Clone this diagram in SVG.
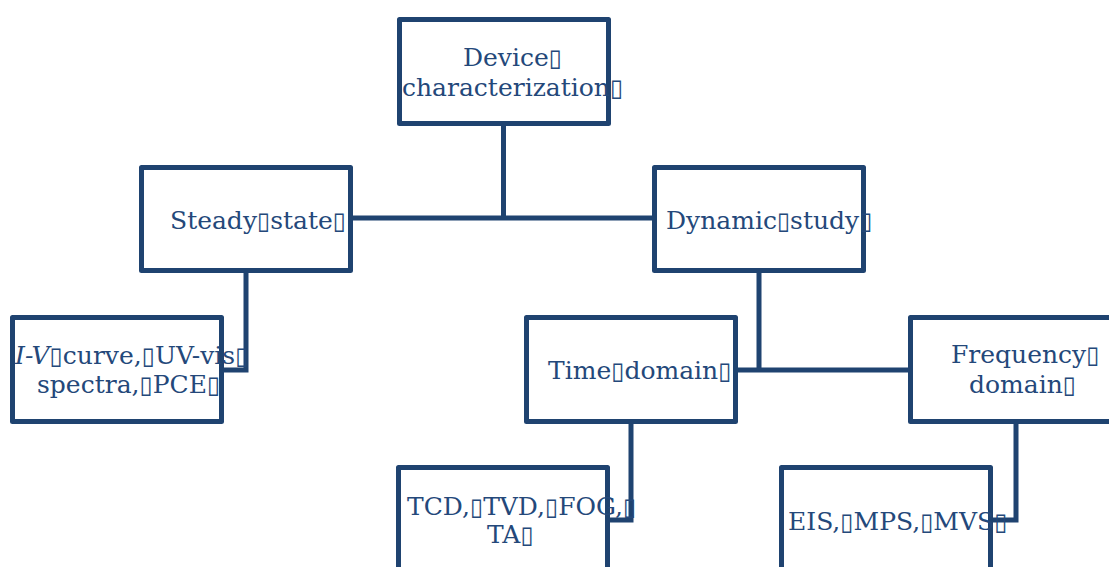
<svg xmlns="http://www.w3.org/2000/svg" width="1109" height="567" viewBox="0 0 1109 567">
<style>
.box{fill:#fff;stroke:#1f4370;stroke-width:5;stroke-linejoin:round}
.conn{fill:none;stroke:#1f4370;stroke-width:5}
.t{font-family:"DejaVu Serif","Liberation Serif",serif;font-size:25px;fill:#24487a}
.q{font-family:"DejaVu Sans","DejaVu Sans Mono",sans-serif;font-size:24px;font-weight:normal;font-style:normal}
</style>
<rect width="1109" height="567" fill="#fff"/>
<g id="connectors">
<path class="conn" d="M503.5,122 V218 M353,218 H652"/>
<path class="conn" d="M246,272 V370 H224"/>
<path class="conn" d="M759,272 V370 M738,370 H908"/>
<path class="conn" d="M631,423 V520 H610"/>
<path class="conn" d="M1016,423 V520 H993"/>
</g>
<g id="device">
<rect class="box" x="399.5" y="19.5" width="209" height="104"/>
<text class="t" x="463" y="66">Device<tspan class="q">▯</tspan></text>
<text class="t" x="402" y="96">characterization<tspan class="q">▯</tspan></text>
</g>
<g id="steady">
<rect class="box" x="141.5" y="167.5" width="209" height="103"/>
<text class="t" x="170" y="229">Steady<tspan class="q">▯</tspan>state<tspan class="q">▯</tspan></text>
</g>
<g id="dynamic">
<rect class="box" x="654.5" y="167.5" width="209" height="103"/>
<text class="t" x="666" y="229">Dynamic<tspan class="q">▯</tspan>study<tspan class="q">▯</tspan></text>
</g>
<g id="iv">
<rect class="box" x="12.5" y="317.5" width="209" height="104"/>
<text class="t" x="15" y="364"><tspan font-style="italic">I-V</tspan><tspan class="q">▯</tspan>curve,<tspan class="q">▯</tspan>UV-vis<tspan class="q">▯</tspan></text>
<text class="t" x="37" y="393">spectra,<tspan class="q">▯</tspan>PCE<tspan class="q">▯</tspan></text>
</g>
<g id="time">
<rect class="box" x="526.5" y="317.5" width="209" height="104"/>
<text class="t" x="548" y="379">Time<tspan class="q">▯</tspan>domain<tspan class="q">▯</tspan></text>
</g>
<g id="frequency">
<rect class="box" x="910.5" y="317.5" width="209" height="104"/>
<text class="t" x="951" y="363">Frequency<tspan class="q">▯</tspan></text>
<text class="t" x="969" y="393">domain<tspan class="q">▯</tspan></text>
</g>
<g id="tcd">
<rect class="box" x="398.5" y="467.5" width="209" height="110"/>
<text class="t" x="407" y="515">TCD,<tspan class="q">▯</tspan>TVD,<tspan class="q">▯</tspan>FOG,<tspan class="q">▯</tspan></text>
<text class="t" x="487" y="543">TA<tspan class="q">▯</tspan></text>
</g>
<g id="eis">
<rect class="box" x="781.5" y="467.5" width="209" height="110"/>
<text class="t" x="788" y="530">EIS,<tspan class="q">▯</tspan>MPS,<tspan class="q">▯</tspan>MVS<tspan class="q">▯</tspan></text>
</g>
</svg>
